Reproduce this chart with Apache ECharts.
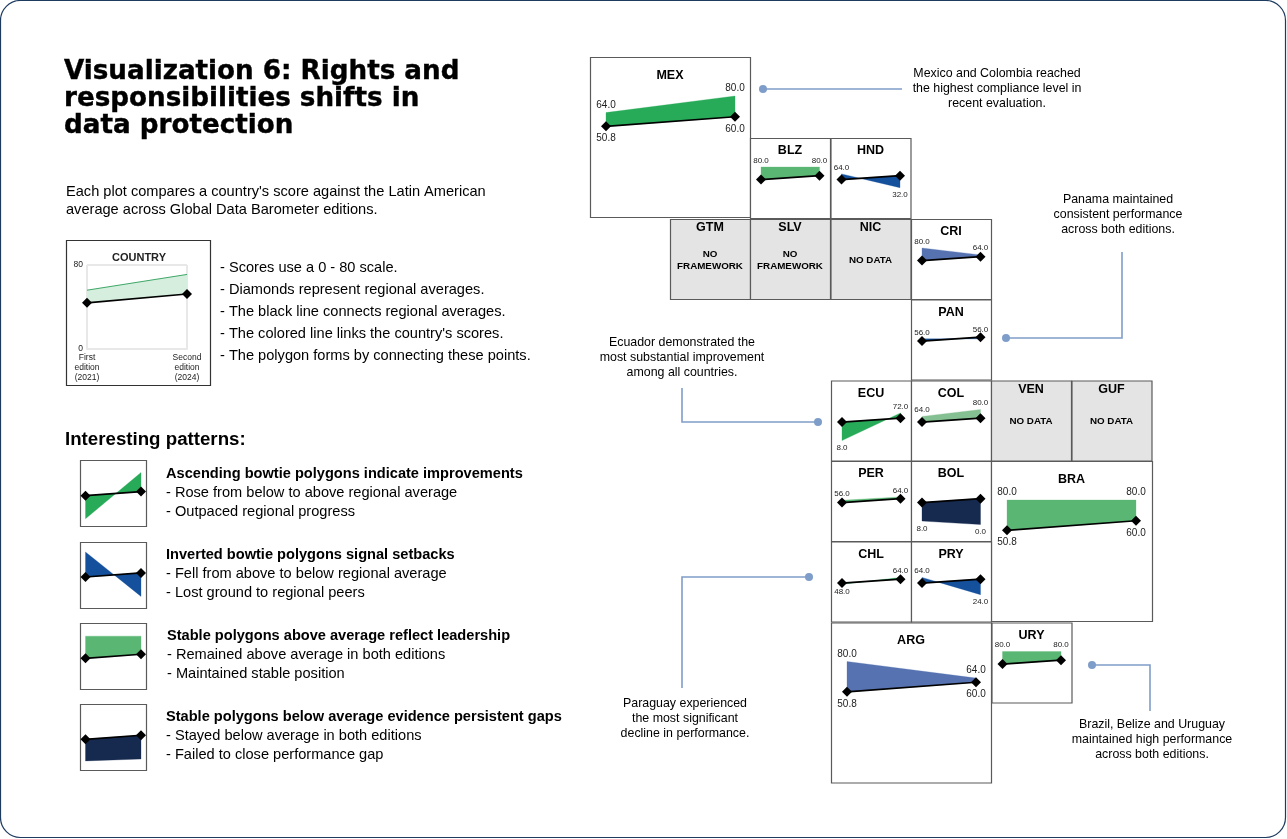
<!DOCTYPE html>
<html>
<head>
<meta charset="utf-8">
<title>Visualization 6</title>
<script src="https://cdn.jsdelivr.net/npm/echarts@6/dist/echarts.min.js"></script>
<style>
html, body { margin: 0; padding: 0; background: #fff; }
#chart { width: 1287px; height: 839px; }
</style>
</head>
<body>
<div id="chart"></div>
<script>
// data
const editions = ['First\nedition\n(2021)', 'Second\nedition\n(2024)'];
const regional = [50.8, 60];
const yTicks = [0, 80];

const countries = ['MEX', 'BLZ', 'HND', 'CRI', 'PAN', 'ECU', 'COL', 'PER', 'BOL', 'BRA', 'CHL', 'PRY', 'ARG', 'URY'];
const firstScores = [64, 80, 64, 80, 56, 8, 64, 56, 8, 80, 48, 64, 80, 80];
const secondScores = [80, 80, 32, 64, 56, 72, 80, 64, 0, 80, 64, 24, 64, 80];

const greyCountries = ['GTM', 'SLV', 'NIC', 'VEN', 'GUF'];
const greyNotes = ['NO\nFRAMEWORK', 'NO\nFRAMEWORK', 'NO DATA', 'NO DATA', 'NO DATA'];

const keyExampleScores = [56, 71];
const keyExampleRegional = [44, 52.4];

const patternFirstScores = [2, 80, 75, 5];
const patternSecondScores = [76, 9, 75, 8];
const patternFirstRegional = [39, 40, 39.5, 39.5];
const patternSecondRegional = [45.5, 46.5, 46, 46];

// layout and colours
const GREEN = '#28ab58', MID_GREEN = '#5ab673', PALE_GREEN = '#85c092';
const BLUE = '#15509c', SLATE = '#5672b0', NAVY = '#16294f';
const LINK = '#7f9dc9';
const FONT = '"Liberation Sans", Arial, sans-serif';

const panelPos = {
    MEX: [590, 57, 160], BLZ: [750, 138, 80], HND: [830.5, 138, 80],
    GTM: [670, 219, 80], SLV: [750, 219, 80], NIC: [830.5, 219, 80], CRI: [911, 219, 80],
    PAN: [911, 299.5, 80],
    ECU: [831, 380.5, 80], COL: [911, 380.5, 80], VEN: [991, 380.5, 80], GUF: [1071.5, 380.5, 80],
    PER: [831, 461, 80], BOL: [911, 461, 80], BRA: [991, 461, 161],
    CHL: [831, 541.5, 80], PRY: [911, 541.5, 80],
    ARG: [831, 622.5, 160], URY: [991.5, 622.5, 80]
};
const panelColor = {
    MEX: GREEN, BLZ: MID_GREEN, HND: BLUE, CRI: SLATE, PAN: BLUE, ECU: GREEN, COL: PALE_GREEN,
    PER: MID_GREEN, BOL: NAVY, BRA: MID_GREEN, CHL: GREEN, PRY: BLUE, ARG: SLATE, URY: MID_GREEN
};
// which score labels sit under their point, [first, second]
const labelsBelow = { HND: [0, 1], ECU: [1, 0], BOL: [1, 1], CHL: [1, 0], PRY: [0, 1] };
// extra gap for labels that would touch a diamond
const labelLift = { PAN: [0, 3], CRI: [0, 1] };
const patternPos = [[80, 460], [80, 542], [80, 623], [80, 704]];
const patternColor = [GREEN, BLUE, MID_GREEN, NAVY];

var graphics = [];
var grids = [];
var xAxes = [];
var yAxes = [];
var series = [];

function addText(text, x, y, font, align, fill) {
    graphics.push({
        type: 'text', z: 10,
        style: { text: text, x: x, y: y + 1, font: font, fill: fill || '#000', align: align || 'left', verticalAlign: 'middle', lineHeight: 15 }
    });
}

function addBox(x, y, w, h, fill, stroke) {
    graphics.push({
        type: 'rect', z: -1,
        shape: { x: x + 0.5, y: y + 0.5, width: w, height: h },
        style: { fill: fill, stroke: stroke || '#5a5a5a', lineWidth: 1.2 }
    });
}

function addLink(points, dot) {
    graphics.push({
        type: 'polyline', z: 2,
        shape: { points: points },
        style: { fill: null, stroke: LINK, lineWidth: 1.6 }
    });
    graphics.push({
        type: 'circle', z: 3,
        shape: { cx: dot[0], cy: dot[1], r: 4 },
        style: { fill: LINK }
    });
}

// one small plot: axes plus the polygon and the regional line
function addPlot(box, yMax) {
    var idx = grids.length;
    grids.push({ left: box.left, top: box.top, width: box.width, height: box.height });
    xAxes.push({
        gridIndex: idx, type: 'category', data: editions, boundaryGap: false, show: false
    });
    yAxes.push({
        gridIndex: idx, type: 'value', min: 0, max: yMax, show: false
    });
    return idx;
}

function polygonSeries(idx, first, second, regFirst, regSecond, color) {
    return {
        type: 'custom', xAxisIndex: idx, yAxisIndex: idx, silent: true, z: 3,
        data: [[first, second, regFirst, regSecond]],
        renderItem: function (params, api) {
            var pts = [
                api.coord([0, api.value(0)]),
                api.coord([1, api.value(1)]),
                api.coord([1, api.value(3)]),
                api.coord([0, api.value(2)])
            ];
            return { type: 'polygon', shape: { points: pts }, style: { fill: color, stroke: color, lineWidth: 0.3 } };
        }
    };
}

function regionalSeries(idx, values, labelSize) {
    var s = {
        type: 'line', xAxisIndex: idx, yAxisIndex: idx, silent: true, z: 5,
        data: values,
        symbol: 'diamond', symbolSize: 10,
        lineStyle: { color: '#000', width: 1.7 },
        itemStyle: { color: '#000' }
    };
    if (labelSize) {
        s.label = {
            show: true, position: 'bottom', distance: 2, fontSize: labelSize, fontFamily: FONT, color: '#222',
            formatter: function (p) { return Number(p.value).toFixed(1); }
        };
    }
    return s;
}

function scoreLabelSeries(code, idx, first, second, size) {
    var below = labelsBelow[code] || [0, 0];
    var lift = labelLift[code] || [0, 0];
    var place = function (score, under, extra) {
        return {
            value: score,
            label: { position: under ? 'bottom' : 'top', distance: (under ? 3 : 2) + extra }
        };
    };
    return {
        type: 'scatter', xAxisIndex: idx, yAxisIndex: idx, silent: true, z: 6,
        data: [place(first, below[0], lift[0]), place(second, below[1], lift[1])],
        symbolSize: 1,
        itemStyle: { color: 'transparent', opacity: 1 },
        label: {
            show: true, fontSize: size, fontFamily: FONT, color: '#222',
            formatter: function (p) { return Number(p.value).toFixed(1); }
        }
    };
}

// outer frame
graphics.push({
    type: 'rect', z: -2,
    shape: { x: 0.5, y: 0.5, width: 1285, height: 837, r: 20 },
    style: { fill: '#fff', stroke: '#1d3a5f', lineWidth: 1.2 }
});

// country panels
countries.forEach(function (code, i) {
    var pos = panelPos[code];
    var big = pos[2] > 100;
    addBox(pos[0], pos[1], pos[2], big ? 160 : 80, '#fff');
    addText(code, pos[0] + pos[2] / 2, pos[1] + (big ? 17.5 : 12), 'bold 12.5px ' + FONT, 'center');
    var idx = addPlot(big
        ? { left: pos[0] + 16, top: pos[1] + 39, width: 129, height: 83 }
        : { left: pos[0] + 11, top: pos[1] + 29, width: 58.5, height: 34.5 }, 80);
    series.push(polygonSeries(idx, firstScores[i], secondScores[i], regional[0], regional[1], panelColor[code]));
    series.push(regionalSeries(idx, regional, big ? 10 : 0));
    series.push(scoreLabelSeries(code, idx, firstScores[i], secondScores[i], big ? 10 : 8));
});

// panels without scores
greyCountries.forEach(function (code, i) {
    var pos = panelPos[code];
    addBox(pos[0], pos[1], pos[2], 80, '#e4e4e4');
    addText(code, pos[0] + pos[2] / 2, pos[1] + 8, 'bold 12.5px ' + FONT, 'center');
    graphics.push({
        type: 'text', z: 10,
        style: {
            text: greyNotes[i], x: pos[0] + pos[2] / 2, y: pos[1] + 41,
            font: 'bold 9.8px ' + FONT, fill: '#000', align: 'center', verticalAlign: 'middle', lineHeight: 12
        }
    });
});

// heading and intro
var titleLines = ['Visualization 6: Rights and', 'responsibilities shifts in', 'data protection'];
titleLines.forEach(function (line, i) {
    graphics.push({
        type: 'text', z: 10,
        style: {
            text: line, x: 64, y: 72 + i * 27, font: 'bold 26.2px "DejaVu Sans", sans-serif', fill: '#000',
            verticalAlign: 'middle', stroke: '#000', lineWidth: 0.4
        }
    });
});
addText("Each plot compares a country's score against the Latin American", 66, 191, '14.6px ' + FONT);
addText('average across Global Data Barometer editions.', 66, 209, '14.6px ' + FONT);

// how-to-read key
addBox(66, 240, 144, 145, '#fff', '#333');
addText('COUNTRY', 139, 257, 'bold 11px ' + FONT, 'center', '#222');
var keyIdx = grids.length;
grids.push({ left: 87, top: 265, width: 100, height: 84 });
xAxes.push({
    gridIndex: keyIdx, type: 'category', data: editions, boundaryGap: false,
    axisLine: { show: true, lineStyle: { color: '#e8e8e8', width: 2 } },
    axisTick: { show: false },
    splitLine: { show: true, lineStyle: { color: '#e8e8e8', width: 2 } },
    axisLabel: { interval: 0, fontSize: 8.5, fontFamily: FONT, color: '#222', margin: 4, lineHeight: 10, hideOverlap: false }
});
yAxes.push({
    gridIndex: keyIdx, type: 'value', min: yTicks[0], max: yTicks[1], interval: 80,
    axisLine: { show: false }, axisTick: { show: false },
    splitLine: { show: true, lineStyle: { color: '#e8e8e8', width: 2 } },
    axisLabel: { fontSize: 8.5, fontFamily: FONT, color: '#222', margin: 4 }
});
series.push(polygonSeries(keyIdx, keyExampleScores[0], keyExampleScores[1], keyExampleRegional[0], keyExampleRegional[1], '#d5eedd'));
series.push({
    type: 'line', xAxisIndex: keyIdx, yAxisIndex: keyIdx, silent: true, z: 4,
    data: keyExampleScores, symbol: 'none',
    lineStyle: { color: '#3fa868', width: 1 }
});
series.push(regionalSeries(keyIdx, keyExampleRegional, 0));

var keyNotes = ['- Scores use a 0 - 80 scale.', '- Diamonds represent regional averages.', '- The black line connects regional averages.',
    "- The colored line links the country's scores.", '- The polygon forms by connecting these points.'];
keyNotes.forEach(function (line, i) {
    addText(line, 220, 267 + i * 22, '14.6px ' + FONT);
});

// interesting patterns
addText('Interesting patterns:', 65, 439, 'bold 18.7px ' + FONT);
var patternHeads = ['Ascending bowtie polygons indicate improvements', 'Inverted bowtie polygons signal setbacks',
    'Stable polygons above average reflect leadership', 'Stable polygons below average evidence persistent gaps'];
var patternBodies = [
    ['- Rose from below to above regional average', '- Outpaced regional progress'],
    ['- Fell from above to below regional average', '- Lost ground to regional peers'],
    ['- Remained above average in both editions', '- Maintained stable position'],
    ['- Stayed below average in both editions', '- Failed to close performance gap']
];
var patternTextY = [473, 554, 635, 716];
patternPos.forEach(function (pos, i) {
    addBox(pos[0], pos[1], 66, 66, '#fff');
    var idx = addPlot({ left: pos[0] + 5.5, top: pos[1] + 10, width: 55.5, height: 50 }, 80);
    series.push(polygonSeries(idx, patternFirstScores[i], patternSecondScores[i], patternFirstRegional[i], patternSecondRegional[i], patternColor[i]));
    series.push(regionalSeries(idx, [patternFirstRegional[i], patternSecondRegional[i]], 0));
    var tx = i === 2 ? 167 : 166;
    addText(patternHeads[i], tx, patternTextY[i], 'bold 14.6px ' + FONT);
    addText(patternBodies[i][0], tx, patternTextY[i] + 19, '14.6px ' + FONT);
    addText(patternBodies[i][1], tx, patternTextY[i] + 38, '14.6px ' + FONT);
});

// callouts
var calloutFont = '12.4px ' + FONT;
function addCallout(lines, x, y) {
    lines.forEach(function (line, i) {
        addText(line, x, y + i * 15, calloutFont, 'center');
    });
}
addCallout(['Mexico and Colombia reached', 'the highest compliance level in', 'recent evaluation.'], 997, 73);
addCallout(['Panama maintained', 'consistent performance', 'across both editions.'], 1118, 199);
addCallout(['Ecuador demonstrated the', 'most substantial improvement', 'among all countries.'], 682, 342);
addCallout(['Paraguay experienced', 'the most significant', 'decline in performance.'], 685, 703);
addCallout(['Brazil, Belize and Uruguay', 'maintained high performance', 'across both editions.'], 1152, 724);

addLink([[763, 89], [902, 89]], [763, 89]);
addLink([[1006, 338], [1122, 338], [1122, 252]], [1006, 338]);
addLink([[682, 388], [682, 422], [818, 422]], [818, 422]);
addLink([[809, 577], [682, 577], [682, 688]], [809, 577]);
addLink([[1092, 665], [1150, 665], [1150, 711]], [1092, 665]);

var myChart = echarts.init(document.getElementById('chart'));
var option = {
    animation: false,
    backgroundColor: '#fff',
    graphic: { elements: graphics },
    grid: grids,
    xAxis: xAxes,
    yAxis: yAxes,
    series: series
};
myChart.setOption(option);
window.addEventListener('resize', function () {
    myChart.resize();
});
</script>
</body>
</html>
